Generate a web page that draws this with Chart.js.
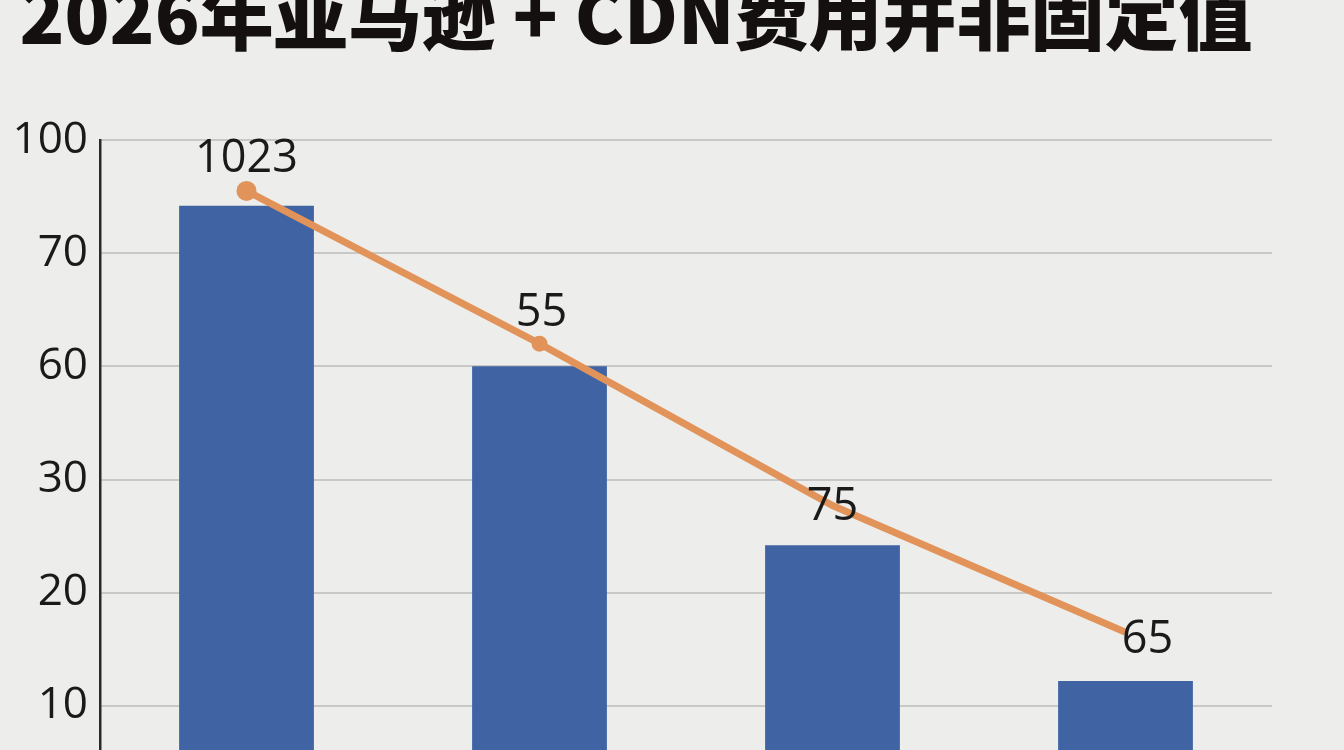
<!DOCTYPE html>
<html>
<head>
<meta charset="utf-8">
<script src="https://cdn.jsdelivr.net/npm/chart.js@4.4.1/dist/chart.umd.min.js"></script>
<style>
  html, body { margin: 0; padding: 0; width: 1344px; height: 750px; overflow: hidden; background: #EDEDEB; }
  #wrap { position: absolute; left: 0; top: -40px; width: 1344px; height: 900px; }
</style>
</head>
<body>
<div id="wrap"><canvas id="c"></canvas></div>
<script>
// ---- data ----
const titleText = "2026年亚马逊 + CDN费用并非固定值";
const categories = ["1", "2", "3", "4"];
// y tick labels, one per evenly spaced gridline (bottom to top)
const tickLabels = ["10", "20", "30", "60", "70", "100"];
// bar heights, measured in gridline steps
const barValues = [5.42, 4.0, 2.42, 1.22];
// line heights, measured in gridline steps
const lineValues = [5.55, 4.2, 2.77, 1.65];
// text printed next to each line point
const lineLabels = ["1023", "55", "75", "65"];

const labelPlugin = {
  id: 'pointLabels',
  afterDatasetsDraw(chart, args, opts) {
    const meta = chart.getDatasetMeta(0);
    const ctx = chart.ctx;
    ctx.save();
    ctx.font = '400 45px "Open Sans", "Noto Sans", sans-serif';
    ctx.fillStyle = '#1A1A1A';
    ctx.textAlign = 'center';
    ctx.textBaseline = 'middle';
    meta.data.forEach((pt, i) => {
      const off = opts.offsets[i];
      ctx.fillText(lineLabels[i], pt.x + off[0], pt.y + off[1]);
    });
    ctx.restore();
  }
};

new Chart(document.getElementById('c'), {
  data: {
    labels: categories,
    datasets: [
      {
        type: 'line',
        data: lineValues,
        borderColor: '#E2935A',
        backgroundColor: '#E2935A',
        borderWidth: 7,
        pointRadius: [10, 8, 0, 0],
        pointBorderWidth: 0,
        tension: 0,
        order: 0
      },
      {
        type: 'bar',
        data: barValues,
        backgroundColor: '#3F63A3',
        categoryPercentage: 1.0,
        barPercentage: 0.46,
        order: 1
      }
    ]
  },
  options: {
    responsive: true,
    maintainAspectRatio: false,
    animation: false,
    layout: { padding: { left: 0, right: 72, top: 0, bottom: 41 } },
    plugins: {
      legend: { display: false },
      tooltip: { enabled: false },
      title: {
        display: true,
        text: titleText,
        color: '#141010',
        font: { family: '"Noto Sans CJK SC", sans-serif', size: 74, weight: '900', lineHeight: 1 },
        padding: { top: 19, bottom: 87 }
      },
      pointLabels: { offsets: [[0, -32], [2, -31], [0, 2], [22, 8]] }
    },
    scales: {
      x: {
        type: 'category',
        offset: true,
        grid: { display: false, drawTicks: false },
        border: { display: false },
        ticks: { display: false }
      },
      y: {
        min: 0,
        max: 6,
        afterFit(scale) { scale.width = 100; },
        grid: { color: '#C8C8C6', lineWidth: 2, drawTicks: false },
        border: { display: true, color: '#2A2A2A', width: 2.5 },
        ticks: {
          stepSize: 1,
          padding: 12,
          color: '#1A1A1A',
          font: { family: '"Open Sans", "Noto Sans", sans-serif', size: 44 },
          callback: (v) => (v >= 1 ? tickLabels[v - 1] : '')
        }
      }
    }
  },
  plugins: [labelPlugin]
});
</script>
</body>
</html>
